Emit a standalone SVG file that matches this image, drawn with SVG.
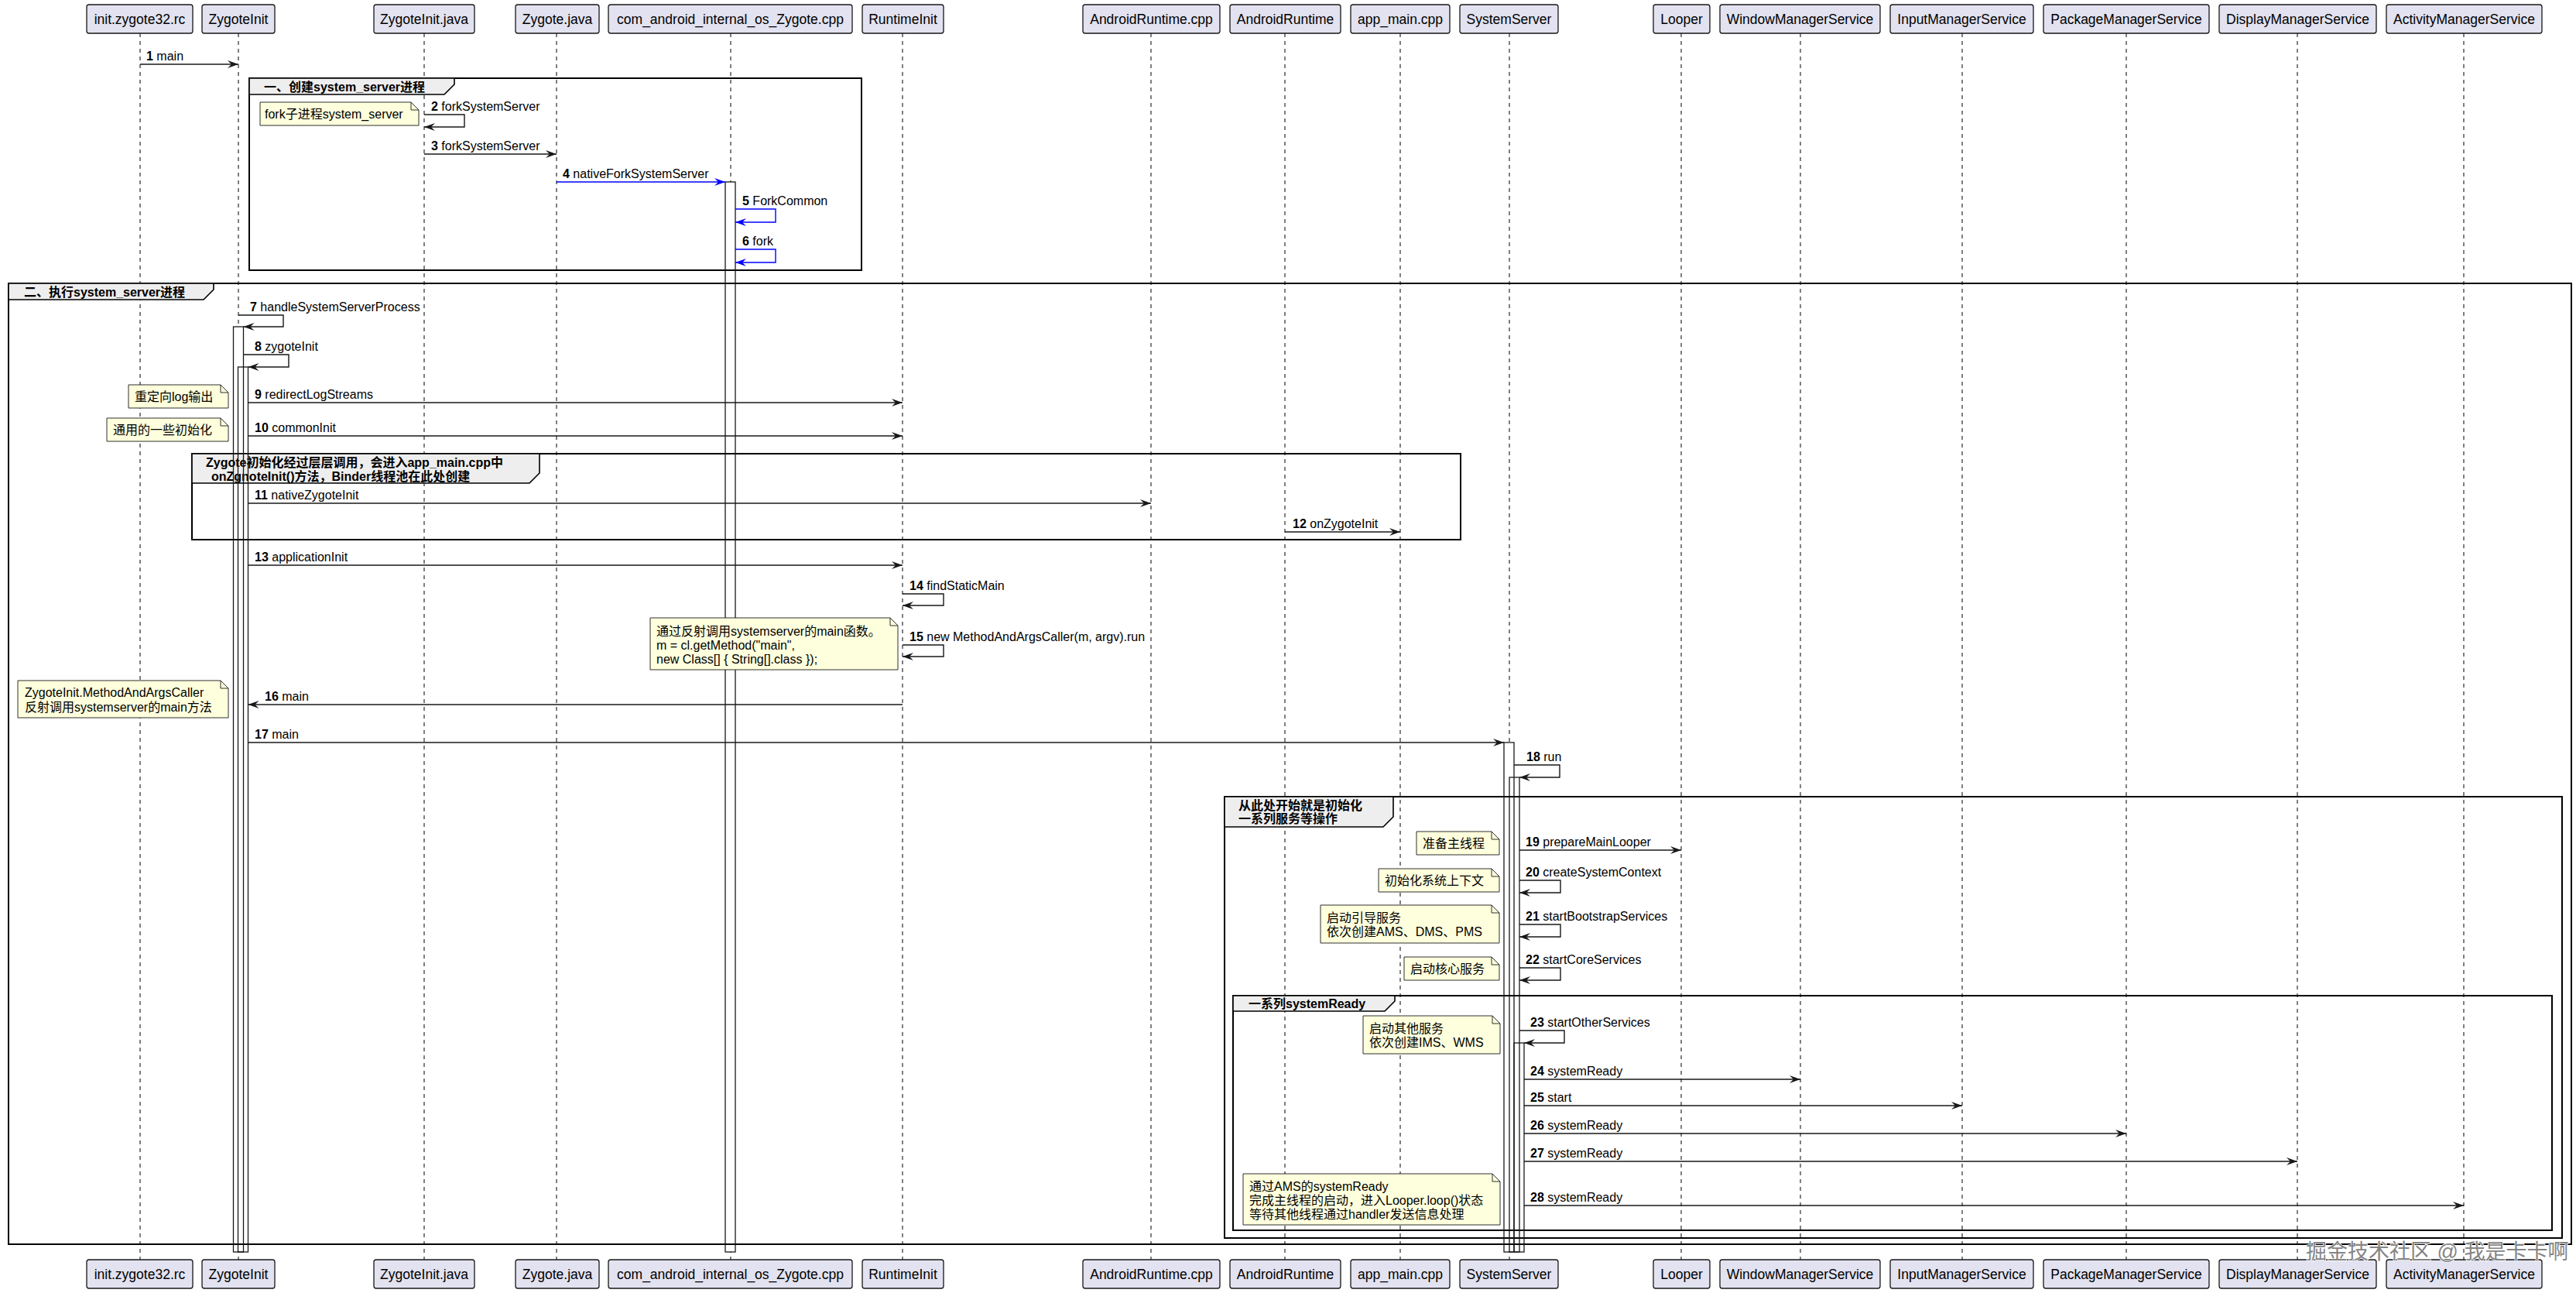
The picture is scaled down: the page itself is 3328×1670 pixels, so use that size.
<svg xmlns="http://www.w3.org/2000/svg" width="3328" height="1670" viewBox="0 0 3328 1670">
<style>
text{font-family:"Liberation Sans","Noto Sans CJK SC",sans-serif;fill:#000}
.pb{fill:#E2E2F0;stroke:#181818;stroke-width:1.3}
.pt{font-size:17.5px;text-anchor:middle}
.ll{stroke:#181818;stroke-width:1.1;stroke-dasharray:5,5}
.actf{fill:#fff;stroke:none}
.acto{fill:none;stroke:#181818;stroke-width:1.3}
.frame{fill:none;stroke:#000;stroke-width:2}
.tab{fill:#EEEEEE;stroke:#000;stroke-width:1.6}
.gt{font-size:16px;font-weight:bold}
.m{fill:none;stroke:#181818;stroke-width:1.4;marker-end:url(#ah)}
.mb{fill:none;stroke:#0000FF;stroke-width:1.4;marker-end:url(#ahb)}
.lbl{font-size:16px}
.n{font-weight:bold}
.note{fill:#FEFFDD;stroke:#181818;stroke-width:0.9}
.fold{fill:none;stroke:#181818;stroke-width:0.9}
.nt{font-size:16px}
.wm{font-size:27px;fill:#858585;stroke:#ffffff;stroke-width:1.5;paint-order:stroke}
</style>
<defs>
<marker id="ah" viewBox="-15 -6 16 12" refX="0" refY="0" markerWidth="16" markerHeight="12" markerUnits="userSpaceOnUse" orient="auto"><path d="M0,0 L-14,-5 L-9,0 L-14,5 Z" fill="#181818"/></marker>
<marker id="ahb" viewBox="-15 -6 16 12" refX="0" refY="0" markerWidth="16" markerHeight="12" markerUnits="userSpaceOnUse" orient="auto"><path d="M0,0 L-14,-5 L-9,0 L-14,5 Z" fill="#0000FF"/></marker>
</defs>
<rect width="3328" height="1670" fill="#fff"/>

<g id="lifelines">
<line class="ll" x1="181" y1="43" x2="181" y2="1627"/>
<line class="ll" x1="308" y1="43" x2="308" y2="1627"/>
<line class="ll" x1="548" y1="43" x2="548" y2="1627"/>
<line class="ll" x1="719" y1="43" x2="719" y2="1627"/>
<line class="ll" x1="944" y1="43" x2="944" y2="1627"/>
<line class="ll" x1="1166" y1="43" x2="1166" y2="1627"/>
<line class="ll" x1="1487" y1="43" x2="1487" y2="1627"/>
<line class="ll" x1="1660" y1="43" x2="1660" y2="1627"/>
<line class="ll" x1="1809" y1="43" x2="1809" y2="1627"/>
<line class="ll" x1="1950" y1="43" x2="1950" y2="1627"/>
<line class="ll" x1="2172" y1="43" x2="2172" y2="1627"/>
<line class="ll" x1="2326" y1="43" x2="2326" y2="1627"/>
<line class="ll" x1="2535" y1="43" x2="2535" y2="1627"/>
<line class="ll" x1="2747" y1="43" x2="2747" y2="1627"/>
<line class="ll" x1="2968" y1="43" x2="2968" y2="1627"/>
<line class="ll" x1="3183" y1="43" x2="3183" y2="1627"/>
</g>

<g id="activation-fill">
<rect class="actf" x="301.5" y="422" width="13" height="1195"/>
<rect class="actf" x="307.5" y="474" width="13" height="1143"/>
<rect class="actf" x="937" y="235" width="13" height="1382"/>
<rect class="actf" x="1943" y="959" width="13" height="658"/>
<rect class="actf" x="1950" y="1004" width="13" height="613"/>
<rect class="actf" x="1956" y="1347" width="13" height="270"/>
</g>

<g id="group-1">
<rect class="frame" x="322" y="101" width="791" height="248"/>
<path class="tab" d="M322,101 H587 V109 L574,122 H322 Z"/>
<text class="gt" x="341" y="117.5">一、创建system_server进程</text>
</g>
<g id="group-2">
<rect class="frame" x="11" y="366" width="3311" height="1241"/>
<path class="tab" d="M11,366 H276 V374 L263,387 H11 Z"/>
<text class="gt" x="31" y="382.5">二、执行system_server进程</text>
</g>
<g id="group-3">
<rect class="frame" x="248" y="586" width="1639" height="111"/>
<path class="tab" d="M248,586 H697 V611 L684,624 H248 Z"/>
<text class="gt" x="266" y="602.5">Zygote初始化经过层层调用，会进入app_main.cpp中</text>
<text class="gt" x="273" y="620.5">onZgnoteInit()方法，Binder线程池在此处创建</text>
</g>
<g id="group-4">
<rect class="frame" x="1582" y="1029" width="1728" height="570"/>
<path class="tab" d="M1582,1029 H1800 V1055 L1787,1068 H1582 Z"/>
<text class="gt" x="1600" y="1045.5">从此处开始就是初始化</text>
<text class="gt" x="1600" y="1062.5">一系列服务等操作</text>
</g>
<g id="group-5">
<rect class="frame" x="1593" y="1286" width="1704" height="303"/>
<path class="tab" d="M1593,1286 H1802 V1293 L1789,1306 H1593 Z"/>
<text class="gt" x="1613" y="1301.5">一系列systemReady</text>
</g>

<g id="activation-outline">
<rect class="acto" x="301.5" y="422" width="13" height="1195"/>
<rect class="acto" x="307.5" y="474" width="13" height="1143"/>
<rect class="acto" x="937" y="235" width="13" height="1382"/>
<rect class="acto" x="1943" y="959" width="13" height="658"/>
<rect class="acto" x="1950" y="1004" width="13" height="613"/>
<rect class="acto" x="1956" y="1347" width="13" height="270"/>
</g>

<g id="connectors">
<path class="m" d="M181,83 H308"/>
<path class="m" d="M548,148 H600 V164 H548"/>
<path class="m" d="M548,199 H719"/>
<path class="mb" d="M719,235 H937"/>
<path class="mb" d="M950,270 H1002 V287 H950"/>
<path class="mb" d="M950,322 H1002 V339 H950"/>
<path class="m" d="M308,407 H366 V422 H314.5"/>
<path class="m" d="M314.5,458 H373 V474 H320.5"/>
<path class="m" d="M320.5,520 H1166"/>
<path class="m" d="M320.5,563 H1166"/>
<path class="m" d="M320.5,650 H1487"/>
<path class="m" d="M1660,687 H1809"/>
<path class="m" d="M320.5,730 H1166"/>
<path class="m" d="M1166,767 H1219 V782 H1166"/>
<path class="m" d="M1166,833 H1219 V848 H1166"/>
<path class="m" d="M1166,910 H320.5"/>
<path class="m" d="M320.5,959 H1943"/>
<path class="m" d="M1956,988 H2015 V1004 H1963"/>
<path class="m" d="M1963,1098 H2172"/>
<path class="m" d="M1963,1137 H2016 V1153 H1963"/>
<path class="m" d="M1963,1194 H2016 V1210 H1963"/>
<path class="m" d="M1963,1250 H2016 V1266 H1963"/>
<path class="m" d="M1963,1331 H2021 V1347 H1969"/>
<path class="m" d="M1969,1394 H2326"/>
<path class="m" d="M1969,1428 H2535"/>
<path class="m" d="M1969,1464 H2747"/>
<path class="m" d="M1969,1500 H2968"/>
<path class="m" d="M1969,1557 H3183"/>
</g>

<g id="labels">
<text class="lbl" x="189" y="77.5"><tspan class="n">1</tspan> main</text>
<text class="lbl" x="557" y="142.5"><tspan class="n">2</tspan> forkSystemServer</text>
<text class="lbl" x="557" y="193.5"><tspan class="n">3</tspan> forkSystemServer</text>
<text class="lbl" x="727" y="229.5"><tspan class="n">4</tspan> nativeForkSystemServer</text>
<text class="lbl" x="959" y="264.5"><tspan class="n">5</tspan> ForkCommon</text>
<text class="lbl" x="959" y="316.5"><tspan class="n">6</tspan> fork</text>
<text class="lbl" x="323" y="401.5"><tspan class="n">7</tspan> handleSystemServerProcess</text>
<text class="lbl" x="329" y="452.5"><tspan class="n">8</tspan> zygoteInit</text>
<text class="lbl" x="329" y="514.5"><tspan class="n">9</tspan> redirectLogStreams</text>
<text class="lbl" x="329" y="557.5"><tspan class="n">10</tspan> commonInit</text>
<text class="lbl" x="329" y="644.5"><tspan class="n">11</tspan> nativeZygoteInit</text>
<text class="lbl" x="1670" y="681.5"><tspan class="n">12</tspan> onZygoteInit</text>
<text class="lbl" x="329" y="724.5"><tspan class="n">13</tspan> applicationInit</text>
<text class="lbl" x="1175" y="761.5"><tspan class="n">14</tspan> findStaticMain</text>
<text class="lbl" x="1175" y="827.5"><tspan class="n">15</tspan> new MethodAndArgsCaller(m, argv).run</text>
<text class="lbl" x="342" y="904.5"><tspan class="n">16</tspan> main</text>
<text class="lbl" x="329" y="953.5"><tspan class="n">17</tspan> main</text>
<text class="lbl" x="1972" y="982.5"><tspan class="n">18</tspan> run</text>
<text class="lbl" x="1971" y="1092.5"><tspan class="n">19</tspan> prepareMainLooper</text>
<text class="lbl" x="1971" y="1131.5"><tspan class="n">20</tspan> createSystemContext</text>
<text class="lbl" x="1971" y="1188.5"><tspan class="n">21</tspan> startBootstrapServices</text>
<text class="lbl" x="1971" y="1244.5"><tspan class="n">22</tspan> startCoreServices</text>
<text class="lbl" x="1977" y="1325.5"><tspan class="n">23</tspan> startOtherServices</text>
<text class="lbl" x="1977" y="1388.5"><tspan class="n">24</tspan> systemReady</text>
<text class="lbl" x="1977" y="1422.5"><tspan class="n">25</tspan> start</text>
<text class="lbl" x="1977" y="1458.5"><tspan class="n">26</tspan> systemReady</text>
<text class="lbl" x="1977" y="1494.5"><tspan class="n">27</tspan> systemReady</text>
<text class="lbl" x="1977" y="1551.5"><tspan class="n">28</tspan> systemReady</text>
</g>

<g id="note-1">
<path class="note" d="M336,132 H531 L541,142 V162 H336 Z"/><path class="fold" d="M531,132 V142 H541"/>
<text class="nt" x="342" y="152.5">fork子进程system_server</text>
</g>
<g id="note-2">
<path class="note" d="M166,497 H285 L295,507 V527 H166 Z"/><path class="fold" d="M285,497 V507 H295"/>
<text class="nt" x="174" y="517.5">重定向log输出</text>
</g>
<g id="note-3">
<path class="note" d="M138,540 H285 L295,550 V570 H138 Z"/><path class="fold" d="M285,540 V550 H295"/>
<text class="nt" x="146" y="560.5">通用的一些初始化</text>
</g>
<g id="note-4">
<path class="note" d="M840,798 H1150 L1160,808 V865 H840 Z"/><path class="fold" d="M1150,798 V808 H1160"/>
<text class="nt" x="848" y="820.5">通过反射调用systemserver的main函数。</text>
<text class="nt" x="848" y="838.5">m = cl.getMethod("main",</text>
<text class="nt" x="848" y="857">new Class[] { String[].class });</text>
</g>
<g id="note-5">
<path class="note" d="M23,879 H285 L295,889 V927 H23 Z"/><path class="fold" d="M285,879 V889 H295"/>
<text class="nt" x="32" y="900">ZygoteInit.MethodAndArgsCaller</text>
<text class="nt" x="32" y="918.5">反射调用systemserver的main方法</text>
</g>
<g id="note-6">
<path class="note" d="M1830,1074 H1927 L1937,1084 V1104 H1830 Z"/><path class="fold" d="M1927,1074 V1084 H1937"/>
<text class="nt" x="1838" y="1094.5">准备主线程</text>
</g>
<g id="note-7">
<path class="note" d="M1781,1122 H1927 L1937,1132 V1152 H1781 Z"/><path class="fold" d="M1927,1122 V1132 H1937"/>
<text class="nt" x="1789" y="1142.5">初始化系统上下文</text>
</g>
<g id="note-8">
<path class="note" d="M1706,1169 H1927 L1937,1179 V1218 H1706 Z"/><path class="fold" d="M1927,1169 V1179 H1937"/>
<text class="nt" x="1714" y="1190.5">启动引导服务</text>
<text class="nt" x="1714" y="1208.5">依次创建AMS、DMS、PMS</text>
</g>
<g id="note-9">
<path class="note" d="M1814,1236 H1927 L1937,1246 V1266 H1814 Z"/><path class="fold" d="M1927,1236 V1246 H1937"/>
<text class="nt" x="1822" y="1256.5">启动核心服务</text>
</g>
<g id="note-10">
<path class="note" d="M1761,1312 H1928 L1938,1322 V1361 H1761 Z"/><path class="fold" d="M1928,1312 V1322 H1938"/>
<text class="nt" x="1769" y="1333.5">启动其他服务</text>
<text class="nt" x="1769" y="1351.5">依次创建IMS、WMS</text>
</g>
<g id="note-11">
<path class="note" d="M1606,1516 H1928 L1938,1526 V1582 H1606 Z"/><path class="fold" d="M1928,1516 V1526 H1938"/>
<text class="nt" x="1614" y="1537.5">通过AMS的systemReady</text>
<text class="nt" x="1614" y="1555.5">完成主线程的启动，进入Looper.loop()状态</text>
<text class="nt" x="1614" y="1573.5">等待其他线程通过handler发送信息处理</text>
</g>

<g id="participant-init-zygote32-rc">
<rect class="pb" x="112" y="6" width="137" height="37" rx="3"/><text class="pt" x="180.5" y="30.5">init.zygote32.rc</text>
<rect class="pb" x="112" y="1627" width="137" height="37" rx="3"/><text class="pt" x="180.5" y="1651.5">init.zygote32.rc</text>
</g>
<g id="participant-ZygoteInit">
<rect class="pb" x="261" y="6" width="94" height="37" rx="3"/><text class="pt" x="308" y="30.5">ZygoteInit</text>
<rect class="pb" x="261" y="1627" width="94" height="37" rx="3"/><text class="pt" x="308" y="1651.5">ZygoteInit</text>
</g>
<g id="participant-ZygoteInit-java">
<rect class="pb" x="483" y="6" width="130" height="37" rx="3"/><text class="pt" x="548" y="30.5">ZygoteInit.java</text>
<rect class="pb" x="483" y="1627" width="130" height="37" rx="3"/><text class="pt" x="548" y="1651.5">ZygoteInit.java</text>
</g>
<g id="participant-Zygote-java">
<rect class="pb" x="666" y="6" width="108" height="37" rx="3"/><text class="pt" x="720" y="30.5">Zygote.java</text>
<rect class="pb" x="666" y="1627" width="108" height="37" rx="3"/><text class="pt" x="720" y="1651.5">Zygote.java</text>
</g>
<g id="participant-com_android_internal_os_Zygote-cpp">
<rect class="pb" x="786" y="6" width="315" height="37" rx="3"/><text class="pt" x="943.5" y="30.5">com_android_internal_os_Zygote.cpp</text>
<rect class="pb" x="786" y="1627" width="315" height="37" rx="3"/><text class="pt" x="943.5" y="1651.5">com_android_internal_os_Zygote.cpp</text>
</g>
<g id="participant-RuntimeInit">
<rect class="pb" x="1114" y="6" width="105" height="37" rx="3"/><text class="pt" x="1166.5" y="30.5">RuntimeInit</text>
<rect class="pb" x="1114" y="1627" width="105" height="37" rx="3"/><text class="pt" x="1166.5" y="1651.5">RuntimeInit</text>
</g>
<g id="participant-AndroidRuntime-cpp">
<rect class="pb" x="1399" y="6" width="177" height="37" rx="3"/><text class="pt" x="1487.5" y="30.5">AndroidRuntime.cpp</text>
<rect class="pb" x="1399" y="1627" width="177" height="37" rx="3"/><text class="pt" x="1487.5" y="1651.5">AndroidRuntime.cpp</text>
</g>
<g id="participant-AndroidRuntime">
<rect class="pb" x="1589" y="6" width="143" height="37" rx="3"/><text class="pt" x="1660.5" y="30.5">AndroidRuntime</text>
<rect class="pb" x="1589" y="1627" width="143" height="37" rx="3"/><text class="pt" x="1660.5" y="1651.5">AndroidRuntime</text>
</g>
<g id="participant-app_main-cpp">
<rect class="pb" x="1745" y="6" width="128" height="37" rx="3"/><text class="pt" x="1809" y="30.5">app_main.cpp</text>
<rect class="pb" x="1745" y="1627" width="128" height="37" rx="3"/><text class="pt" x="1809" y="1651.5">app_main.cpp</text>
</g>
<g id="participant-SystemServer">
<rect class="pb" x="1886" y="6" width="127" height="37" rx="3"/><text class="pt" x="1949.5" y="30.5">SystemServer</text>
<rect class="pb" x="1886" y="1627" width="127" height="37" rx="3"/><text class="pt" x="1949.5" y="1651.5">SystemServer</text>
</g>
<g id="participant-Looper">
<rect class="pb" x="2136" y="6" width="73" height="37" rx="3"/><text class="pt" x="2172.5" y="30.5">Looper</text>
<rect class="pb" x="2136" y="1627" width="73" height="37" rx="3"/><text class="pt" x="2172.5" y="1651.5">Looper</text>
</g>
<g id="participant-WindowManagerService">
<rect class="pb" x="2222" y="6" width="207" height="37" rx="3"/><text class="pt" x="2325.5" y="30.5">WindowManagerService</text>
<rect class="pb" x="2222" y="1627" width="207" height="37" rx="3"/><text class="pt" x="2325.5" y="1651.5">WindowManagerService</text>
</g>
<g id="participant-InputManagerService">
<rect class="pb" x="2442" y="6" width="185" height="37" rx="3"/><text class="pt" x="2534.5" y="30.5">InputManagerService</text>
<rect class="pb" x="2442" y="1627" width="185" height="37" rx="3"/><text class="pt" x="2534.5" y="1651.5">InputManagerService</text>
</g>
<g id="participant-PackageManagerService">
<rect class="pb" x="2640" y="6" width="214" height="37" rx="3"/><text class="pt" x="2747" y="30.5">PackageManagerService</text>
<rect class="pb" x="2640" y="1627" width="214" height="37" rx="3"/><text class="pt" x="2747" y="1651.5">PackageManagerService</text>
</g>
<g id="participant-DisplayManagerService">
<rect class="pb" x="2867" y="6" width="203" height="37" rx="3"/><text class="pt" x="2968.5" y="30.5">DisplayManagerService</text>
<rect class="pb" x="2867" y="1627" width="203" height="37" rx="3"/><text class="pt" x="2968.5" y="1651.5">DisplayManagerService</text>
</g>
<g id="participant-ActivityManagerService">
<rect class="pb" x="3083" y="6" width="201" height="37" rx="3"/><text class="pt" x="3183.5" y="30.5">ActivityManagerService</text>
<rect class="pb" x="3083" y="1627" width="201" height="37" rx="3"/><text class="pt" x="3183.5" y="1651.5">ActivityManagerService</text>
</g>

<text class="wm" x="2979" y="1626">掘金技术社区 @ 我是卡卡啊</text>
</svg>
